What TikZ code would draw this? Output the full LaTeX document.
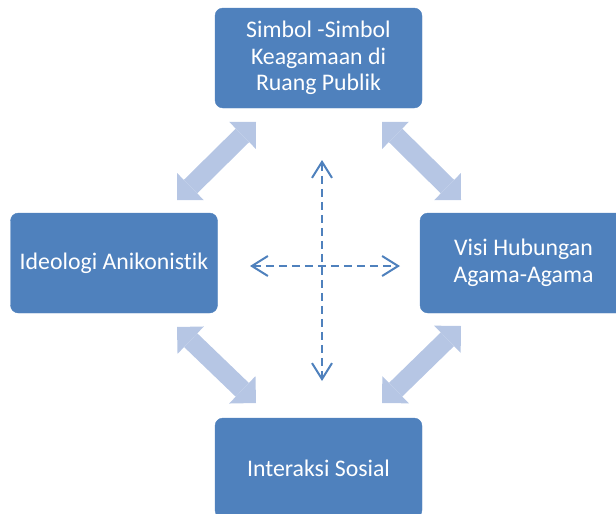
\documentclass[tikz,border=0pt]{standalone}
\usepackage{fontspec}
\setmainfont[Ligatures={NoCommon}]{Carlito}
\usetikzlibrary{arrows.meta}

\definecolor{boxblue}{RGB}{79,129,189}
\definecolor{arrowblue}{RGB}{182,198,228}

\begin{document}
\begin{tikzpicture}[
    x=1pt, y=-1pt,
    box/.style={rectangle, rounded corners=8pt, fill=boxblue, draw=boxblue,
        text=white, minimum width=207pt, minimum height=100pt, align=center,
        font=\fontsize{23.8}{26.5}\selectfont},
    fatarrow/.style={draw=arrowblue, line width=19pt, {Triangle[width=38pt, length=19pt, line width=0pt]}-{Triangle[width=38pt, length=19pt, line width=0pt]}},
    crossarrow/.style={draw=boxblue, line width=2pt, dash pattern=on 8pt off 5pt,
        {Straight Barb[length=16pt, width=20pt]}-{Straight Barb[length=16pt, width=20pt]}},
]
\useasboundingbox (0,0) rectangle (616,514);
\clip (0,0) rectangle (616,514);

% === Boxes ===
\node[box] (simbol) at (318.5,58) {Simbol -Simbol\\Keagamaan di\\Ruang Publik};
\node[box] (ideologi) at (114,263) {Ideologi Anikonistik};
\node[box] (visi) at (523.5,263) {Visi Hubungan\\Agama-Agama};
\node[box] (interaksi) at (318.5,468) {Interaksi Sosial};

% Tips of the wide arrows
\coordinate (tl1) at (177,200);
\coordinate (tl2) at (256,122);
\coordinate (tr1) at (382,122);
\coordinate (tr2) at (461,200);
\coordinate (br1) at (461,326);
\coordinate (br2) at (382,403);
\coordinate (bl1) at (177,327);
\coordinate (bl2) at (256,403);

% === Wide arrows between the boxes ===
\draw[fatarrow] (tl1) -- (tl2);
\draw[fatarrow] (tr1) -- (tr2);
\draw[fatarrow] (br1) -- (br2);
\draw[fatarrow] (bl1) -- (bl2);

% === Dashed cross in the middle ===
\coordinate (up) at (322,160);
\coordinate (down) at (322,381);
\coordinate (west) at (250,266);
\coordinate (east) at (400,266);

\draw[crossarrow] (up) -- (down);
\draw[crossarrow] (west) -- (east);

\end{tikzpicture}
\end{document}
